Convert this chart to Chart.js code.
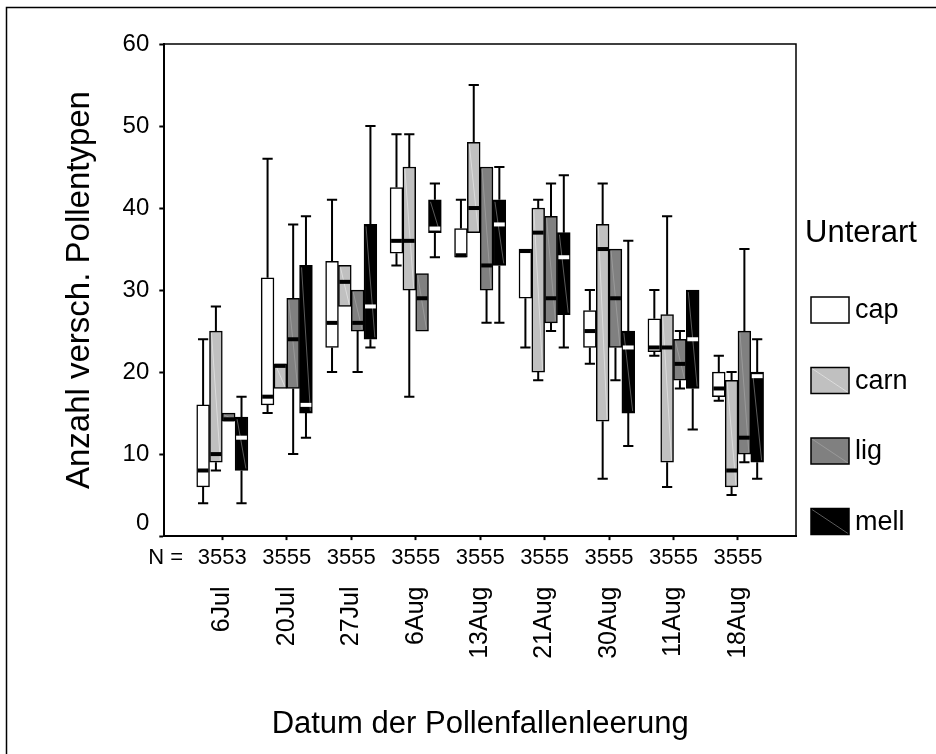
<!DOCTYPE html>
<html>
<head>
<meta charset="utf-8">
<title>Anzahl verschiedener Pollentypen</title>
<script src="https://cdn.jsdelivr.net/npm/chart.js@4.4.1/dist/chart.umd.min.js"></script>
<style>
  html, body { margin: 0; padding: 0; background: #fff; }
</style>
</head>
<body>
<canvas id="boxChart" width="936" height="754"></canvas>
<script>
// Leerungstermine der Pollenfallen
const dates = ['6Jul', '20Jul', '27Jul', '6Aug', '13Aug', '21Aug', '30Aug', '11Aug', '18Aug']

// Stichprobenumfang je Unterart und Termin
const nCap  = [3, 3, 3, 3, 3, 3, 3, 3, 3]
const nCarn = [5, 5, 5, 5, 5, 5, 5, 5, 5]
const nLig  = [5, 5, 5, 5, 5, 5, 5, 5, 5]
const nMell = [3, 5, 5, 5, 5, 5, 5, 5, 5]

// je Termin: [min, q1, median, q3, max]
const cap = [
  [4, 6, 8, 16, 24], [15, 16, 17, 31.5, 46], [20, 23, 26, 33.5, 41],
  [33, 34.5, 36, 42.5, 49], [34, 34, 34, 37.5, 41], [23, 29, 35, 35, 35],
  [21, 23, 25, 27.5, 30], [22, 22.5, 23, 26.5, 30], [16.5, 17, 18, 20, 22]
]
const carn = [
  [8, 9, 10, 25, 28], [18, 18, 21, 21, 21], [28, 28, 31, 33, 33],
  [17, 30, 36, 45, 49], [37, 37, 40, 48, 55], [19, 20, 37, 40, 41],
  [7, 14, 35, 38, 43], [6, 9, 23, 27, 39], [5, 6, 8, 19, 20]
]
const lig = [
  [14, 14, 14, 15, 15], [10, 18, 24, 29, 38], [20, 25, 26, 30, 30],
  [25, 25, 29, 32, 32], [26, 30, 33, 45, 45], [25, 26, 29, 39, 43],
  [19, 23, 29, 35, 35], [18, 19, 21, 24, 25], [9, 10, 12, 25, 35]
]
const mell = [
  [4, 8, 12, 14.5, 17], [12, 15, 16, 33, 39], [23, 24, 28, 38, 50],
  [34, 37, 37.5, 41, 43], [26, 33, 38, 41, 45], [23, 27, 34, 37, 44],
  [11, 15, 23, 25, 36], [13, 18, 24, 30, 30], [7, 9, 19.5, 20, 24]
]

const yTicks = [0, 10, 20, 30, 40, 50, 60]

const nLabels = dates.map((d, i) => '' + nCap[i] + nCarn[i] + nLig[i] + nMell[i])
const groupPos = dates.map((d, i) => i)

Chart.defaults.font.family = "'Liberation Sans', Arial, sans-serif"
Chart.defaults.color = '#000'

function boxSet(label, stats, fill, stripe, median) {
  return {
    label: label,
    data: stats.map((s, i) => ({ x: i, y: [s[1], s[3]] })),
    stats: stats,
    backgroundColor: fill,
    borderColor: '#000',
    borderWidth: 1.5,
    borderSkipped: false,
    barThickness: 12.8,
    stripe: stripe,
    medianColor: median
  }
}

// Whisker, Median und Schraffur-Diagonale auf den Boxen
const boxParts = {
  id: 'boxParts',
  afterDatasetsDraw(chart) {
    const ctx = chart.ctx
    const yScale = chart.scales.y
    ctx.save()
    chart.data.datasets.forEach((ds, di) => {
      chart.getDatasetMeta(di).data.forEach((bar, i) => {
        const [lo, q1, med, q3, hi] = ds.stats[i]
        const p = bar.getProps(['x', 'width'], true)
        const left = p.x - p.width / 2
        const right = p.x + p.width / 2
        const top = yScale.getPixelForValue(q3)
        const bottom = yScale.getPixelForValue(q1)

        if (ds.stripe && bottom - top > 4) {
          ctx.strokeStyle = ds.stripe
          ctx.lineWidth = 1
          ctx.beginPath()
          ctx.moveTo(left + 2, top + 2)
          ctx.lineTo(right - 2, bottom - 2)
          ctx.stroke()
        }

        ctx.strokeStyle = '#000'
        ctx.lineWidth = 2
        const capHalf = p.width * 0.4
        ;[[lo, bottom], [hi, top]].forEach(([v, edge]) => {
          const yy = yScale.getPixelForValue(v)
          if (Math.abs(yy - edge) < 1) return
          ctx.beginPath()
          ctx.moveTo(p.x, edge)
          ctx.lineTo(p.x, yy)
          ctx.moveTo(p.x - capHalf, yy)
          ctx.lineTo(p.x + capHalf, yy)
          ctx.stroke()
        })

        const ym = yScale.getPixelForValue(med)
        const band = Math.min(Math.max(ym - 2, top), bottom - 4)
        ctx.fillStyle = ds.medianColor
        ctx.fillRect(left + 1, band, p.width - 2, 4)
      })
    })
    ctx.restore()
  }
}

// Rahmen, Legende und die abgesetzte 0 an der y-Achse
const decor = {
  id: 'decor',
  afterDraw(chart) {
    const ctx = chart.ctx
    const a = chart.chartArea
    const yScale = chart.scales.y
    ctx.save()
    ctx.strokeStyle = '#000'
    ctx.lineWidth = 1.5
    ctx.beginPath()
    ctx.moveTo(a.left, a.top)
    ctx.lineTo(a.right, a.top)
    ctx.lineTo(a.right, a.bottom)
    ctx.stroke()

    ctx.beginPath()
    ctx.moveTo(6.5, chart.height)
    ctx.lineTo(6.5, 7.5)
    ctx.lineTo(chart.width, 7.5)
    ctx.stroke()

    ctx.fillStyle = '#000'
    ctx.font = "24px 'Liberation Sans', Arial, sans-serif"
    ctx.textAlign = 'right'
    ctx.textBaseline = 'middle'
    ctx.fillText('0', a.left - 15, yScale.getPixelForValue(0) - 13)

    // Legende
    const lx = a.right + 9
    ctx.textAlign = 'left'
    ctx.font = "31px 'Liberation Sans', Arial, sans-serif"
    ctx.fillText('Unterart', lx, 233)
    ctx.font = "27px 'Liberation Sans', Arial, sans-serif"
    chart.data.datasets.forEach((ds, i) => {
      const bx = a.right + 15
      const by = 297 + i * 70.5
      ctx.fillStyle = ds.backgroundColor
      ctx.fillRect(bx, by, 38, 26)
      if (ds.stripe) {
        ctx.strokeStyle = ds.stripe
        ctx.lineWidth = 1
        ctx.beginPath()
        ctx.moveTo(bx + 1, by + 1)
        ctx.lineTo(bx + 37, by + 25)
        ctx.stroke()
      }
      ctx.strokeStyle = '#000'
      ctx.lineWidth = 1.5
      ctx.strokeRect(bx, by, 38, 26)
      ctx.fillStyle = '#000'
      ctx.fillText(ds.label, bx + 44, by + 14)
    })
    ctx.restore()
  }
}

const fixedTicks = list => scale => { scale.ticks = list.map(v => ({ value: v })) }

new Chart(document.getElementById('boxChart'), {
  type: 'bar',
  data: {
    datasets: [
      boxSet('cap', cap, '#ffffff', null, '#000000'),
      boxSet('carn', carn, '#c0c0c0', '#dcdcdc', '#000000'),
      boxSet('lig', lig, '#808080', '#9a9a9a', '#000000'),
      boxSet('mell', mell, '#000000', '#5a5a5a', '#ffffff')
    ]
  },
  options: {
    responsive: false,
    animation: false,
    layout: { padding: { top: 44, right: 140, left: 60, bottom: 11 } },
    plugins: {
      legend: { display: false },
      tooltip: { enabled: false }
    },
    scales: {
      x: {
        type: 'linear',
        offset: false,
        min: -0.9,
        max: 8.9,
        afterBuildTicks: fixedTicks(groupPos),
        ticks: { display: false },
        grid: { offset: false, drawOnChartArea: false, tickLength: 4, tickWidth: 2, tickColor: '#000' },
        border: { width: 2, color: '#000' }
      },
      xN: {
        type: 'linear',
        position: 'bottom',
        offset: false,
        weight: 1,
        min: -0.9,
        max: 8.9,
        afterBuildTicks: fixedTicks([-0.88].concat(groupPos)),
        ticks: {
          autoSkip: false,
          maxRotation: 0,
          padding: -3,
          font: { size: 22 },
          callback: (v, i) => i === 0 ? 'N =' : nLabels[i - 1]
        },
        grid: { display: false, offset: false },
        border: { display: false }
      },
      xDate: {
        type: 'linear',
        position: 'bottom',
        offset: false,
        weight: 2,
        min: -0.9,
        max: 8.9,
        afterBuildTicks: fixedTicks(groupPos),
        ticks: {
          autoSkip: false,
          minRotation: 90,
          maxRotation: 90,
          padding: 10,
          font: { size: 25 },
          callback: (v, i) => dates[i]
        },
        grid: { display: false, offset: false },
        border: { display: false },
        title: {
          display: true,
          text: 'Datum der Pollenfallenleerung',
          font: { size: 31 },
          padding: { top: 37, bottom: 0 }
        }
      },
      y: {
        min: 0,
        max: 60,
        stacked: false,
        afterBuildTicks: fixedTicks(yTicks),
        ticks: {
          padding: 10,
          font: { size: 24 },
          callback: v => v === 0 ? '' : v
        },
        grid: { drawOnChartArea: false, tickLength: 5, tickWidth: 2, tickColor: '#000' },
        border: { width: 2, color: '#000' },
        title: {
          display: true,
          text: 'Anzahl versch. Pollentypen',
          font: { size: 33 },
          padding: { top: 0, bottom: 13 }
        }
      }
    }
  },
  plugins: [boxParts, decor]
})
</script>
</body>
</html>
